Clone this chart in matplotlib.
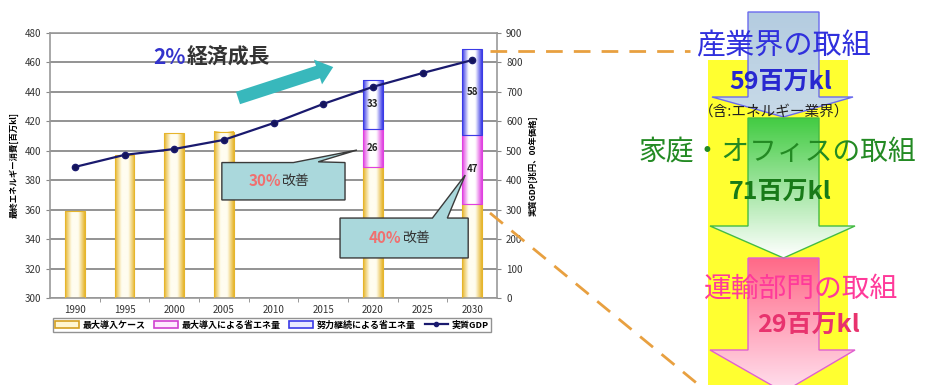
import numpy as np
import matplotlib.pyplot as plt
from matplotlib.colors import LinearSegmentedColormap
from matplotlib.patches import Polygon, Rectangle, Patch, FancyArrow
from matplotlib.lines import Line2D

plt.rcParams['font.family'] = ['Noto Sans CJK JP', 'DejaVu Sans']

years = ['1990', '1995', '2000', '2005', '2010', '2015', '2020', '2025', '2030']
# final energy consumption, million kl (left axis)
base = [359, 397, 412, 413, None, None, 389, None, 364]
saving_max = [None, None, None, None, None, None, 26, None, 47]
saving_effort = [None, None, None, None, None, None, 33, None, 58]
# real GDP, trillion yen (right axis)
gdp = [445, 486, 506, 537, 594, 659, 717, 764, 808]

legend_labels = ['最大導入ケース', '最大導入による省エネ量', '努力継続による省エネ量', '実質GDP']

Y0 = 300

fig = plt.figure(figsize=(9.26, 3.85), dpi=100)
ax = fig.add_axes([50 / 926, 1 - 298 / 385, 447 / 926, 265 / 385])
x = np.arange(len(years))
W = 0.4


def grad_bar(ax, xs, heights, bottoms, edge, center='white'):
    cmap = LinearSegmentedColormap.from_list('g', [edge, center, center, edge])
    grad = np.linspace(0, 1, 64).reshape(1, -1)
    bars = ax.bar(xs, heights, bottom=bottoms, width=W, facecolor='none',
                  edgecolor=edge, linewidth=0.8, zorder=3)
    for p in bars:
        x0, y0 = p.get_x(), p.get_y()
        ax.imshow(grad, extent=[x0, x0 + p.get_width(), y0, y0 + p.get_height()],
                  aspect='auto', cmap=cmap, zorder=2.5, interpolation='bicubic')
    return bars


xi = [i for i in x if base[i] is not None]
b = [base[i] - Y0 for i in xi]
grad_bar(ax, xi, b, [Y0] * len(xi), '#e6b52c', '#fffdf0')

si = [i for i in x if saving_max[i] is not None]
sm = [saving_max[i] for i in si]
sb = [base[i] for i in si]
grad_bar(ax, si, sm, sb, '#e040e0', '#ffffff')
se = [saving_effort[i] for i in si]
eb = [base[i] + saving_max[i] for i in si]
grad_bar(ax, si, se, eb, '#3a3ae6', '#ffffff')

for i, v, bt in zip(si, sm, sb):
    ax.text(i, bt + v / 2, str(v), ha='center', va='center', fontsize=7,
            fontweight='bold', color='#222222', zorder=5)
for i, v, bt in zip(si, se, eb):
    ax.text(i, bt + v / 2, str(v), ha='center', va='center', fontsize=7,
            fontweight='bold', color='#222222', zorder=5)

ax.set_xlim(-0.5, len(years) - 0.5)
ax.set_ylim(300, 480)
ax.set_yticks(range(300, 481, 20))
ax.set_xticks(x)
ax.set_xticklabels(years)
ax.set_xticks(np.arange(0.5, len(years) - 1, 1), minor=True)
ax.tick_params(axis='x', which='major', length=0, pad=5, labelsize=7, colors='#333333')
ax.tick_params(axis='x', which='minor', length=3, color='#888888')
ax.tick_params(axis='y', length=3, labelsize=7, colors='#333333', color='#888888')
ax.yaxis.grid(True, color='#8a8a8a', linewidth=1.3, zorder=0)
ax.set_axisbelow(True)
for s in ax.spines.values():
    s.set_color('#999999')
    s.set_linewidth(1.2)
ax.set_ylabel('最終エネルギー消費[百万kl]', fontsize=6, fontweight='bold', labelpad=4)

ax2 = ax.twinx()
ax2.plot(x, gdp, color='#1a1a6e', marker='o', markersize=4.5, linewidth=1.6,
         markerfacecolor='#14145a', zorder=6)
ax2.set_ylim(0, 900)
ax2.set_yticks(range(0, 901, 100))
ax2.tick_params(axis='y', length=3, labelsize=7, colors='#333333', color='#888888')
for s in ax2.spines.values():
    s.set_visible(False)
ax2.set_ylabel('実質GDP[兆円、00年価格]', fontsize=6, fontweight='bold', labelpad=4)

# callouts pointing at the savings segments (left axis coordinates)
callouts = [
    ('30%', [(2.96, 392), (4.4, 392), (5.68, 400.5), (4.9, 392.5),
             (5.44, 392), (5.44, 366.6), (2.96, 366.6)], (4.2, 379.5)),
    ('40%', [(5.34, 354.3), (7.2, 354.3), (7.86, 383.5), (7.5, 354.3),
             (7.92, 354.3), (7.92, 327.2), (5.34, 327.2)], (6.63, 340.7)),
]
for pct, pts, (tx, ty) in callouts:
    poly = Polygon(pts, closed=True, facecolor='#aad8dc', edgecolor='#3a3a3a',
                   linewidth=1.0, transform=ax.transData, zorder=8, clip_on=False)
    ax2.add_patch(poly)
    ax2.text(tx - 0.05, ty, pct, transform=ax.transData, ha='right', va='center',
             fontsize=11, fontweight='bold', color='#f07070', zorder=9)
    ax2.text(tx - 0.05, ty, '改善', transform=ax.transData, ha='left', va='center',
             fontsize=10, color='#333333', zorder=9)

handles = [
    Patch(facecolor='#fff6d0', edgecolor='#d4a020', linewidth=1.2),
    Patch(facecolor='#ffe8ff', edgecolor='#d040d0', linewidth=1.2),
    Patch(facecolor='#e8e8ff', edgecolor='#3a3ae6', linewidth=1.2),
    Line2D([], [], color='#1a1a6e', marker='o', markersize=3, linewidth=1.6),
]
leg = fig.legend(handles, legend_labels, loc='center', ncol=4,
                 bbox_to_anchor=(272 / 926, 1 - 325 / 385), fontsize=6.5,
                 frameon=True, fancybox=False, edgecolor='#777777',
                 handlelength=2.6, handletextpad=0.4, columnspacing=1.0,
                 borderpad=0.3)
for t in leg.get_texts():
    t.set_fontweight('bold')

# overlay in pixel coordinates for the annotations
ov = fig.add_axes([0, 0, 1, 1], zorder=10)
ov.set_xlim(0, 926)
ov.set_ylim(385, 0)
ov.axis('off')
ov.patch.set_alpha(0)

ov.text(186, 57, '2%', ha='right', va='center', fontsize=15, color='#3333cc',
        fontweight='bold')
ov.text(187, 57, '経済成長', ha='left', va='center', fontsize=15, color='#333333',
        fontweight='bold')
ov.add_patch(FancyArrow(238, 98, 80, -26, width=13, head_width=26, head_length=16,
                        length_includes_head=False, color='#38b8bc', linewidth=0))

orange = '#e8a040'
ov.plot([490, 690], [51, 51], color=orange, linewidth=2, dashes=(6, 4))
ov.plot([490, 705], [213, 390], color=orange, linewidth=2, dashes=(6, 4))

# right-hand breakdown of savings
ov.add_patch(Rectangle((708, 60), 140, 330, facecolor='#ffff30', edgecolor='none', zorder=1))


def grad_arrow(ov, x0, x1, top, neck, hx0, hx1, tip, c_top, c_bot, edge):
    cx = (x0 + x1) / 2
    pts = [(x0, top), (x1, top), (x1, neck), (hx1, neck), (cx, tip),
           (hx0, neck), (x0, neck)]
    poly = Polygon(pts, closed=True, facecolor='none', edgecolor=edge,
                   linewidth=1.0, zorder=3)
    ov.add_patch(poly)
    cmap = LinearSegmentedColormap.from_list('a', [c_top, c_bot])
    grad = np.linspace(0, 1, 64).reshape(-1, 1)
    im = ov.imshow(grad, extent=(hx0, hx1, tip, top), origin='upper', aspect='auto',
                   cmap=cmap, zorder=2)
    im.set_clip_path(poly)


grad_arrow(ov, 748, 819, 12, 97, 712, 853, 117, '#b4cce0', '#c8dae8', '#6a6aee')
grad_arrow(ov, 748, 819, 118, 226, 710, 855, 258, '#44cc44', '#ffffff', '#44bb44')
grad_arrow(ov, 748, 819, 258, 350, 710, 855, 392, '#ff6a88', '#ffe0ee', '#e060d0')
ov.set_xlim(0, 926)
ov.set_ylim(385, 0)

ov.text(783, 46, '産業界の取組', ha='center', va='center', fontsize=21, color='#3030dd', zorder=5)
ov.text(781, 82, '59百万kl', ha='center', va='center', fontsize=18, color='#2828d0',
        fontweight='bold', zorder=5)
ov.text(774, 112, '（含:エネルギー業界）', ha='center', va='center', fontsize=10.5,
        color='#222222', zorder=5)
ov.text(777, 152, '家庭・オフィスの取組', ha='center', va='center', fontsize=20,
        color='#238a23', zorder=5)
ov.text(780, 192, '71百万kl', ha='center', va='center', fontsize=18, color='#187a18',
        fontweight='bold', zorder=5)
ov.text(801, 289, '運輸部門の取組', ha='center', va='center', fontsize=20,
        color='#ff3a9a', zorder=5)
ov.text(808, 325, '29百万kl', ha='center', va='center', fontsize=18, color='#e8336e',
        fontweight='bold', zorder=5)

fig.savefig('out.png', dpi=100)
